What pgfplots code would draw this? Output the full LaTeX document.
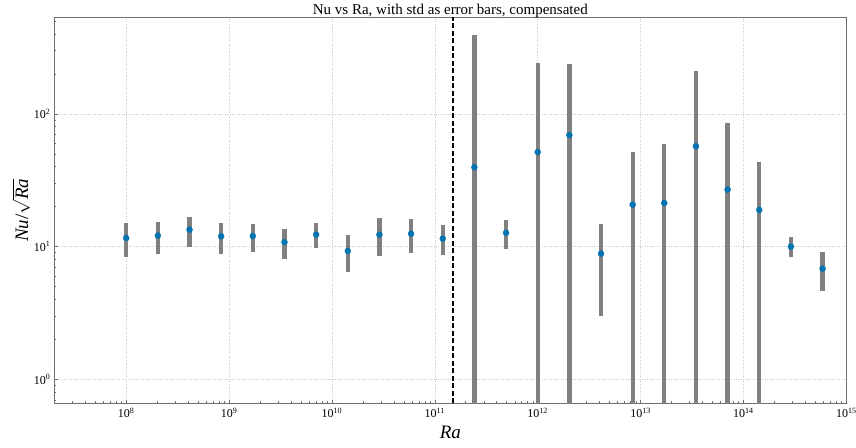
\documentclass[border=0pt]{standalone}
\usepackage{fontspec}
\setmainfont{Liberation Serif}
\usepackage{pgfplots}
\pgfplotsset{compat=1.18}
\usepackage{pgfplotstable}
\definecolor{ptblue}{RGB}{1,115,178}
\definecolor{errgray}{RGB}{128,128,128}
\definecolor{gridgray}{RGB}{200,200,200}
\definecolor{framegray}{RGB}{110,110,110}

\pgfplotstableread{
x y ep em
1e8 11.6 3.4 3.25
2.031e8 12.1 3.2 3.25
4.125e8 13.4 3.4 3.4
8.377e8 11.96 3.2 3.1
1.701e9 12.0 2.9 2.9
3.455e9 10.8 2.7 2.7
7.017e9 12.3 2.7 2.6
1.425e10 9.27 2.9 2.8
2.894e10 12.3 4.0 3.8
5.878e10 12.5 3.6 3.5
1.194e11 11.5 3.0 2.8
2.424e11 39.6 356 39.1
4.924e11 12.7 3.3 3.15
1e12 51.6 190 51.1
2.031e12 69.3 167 68.8
4.125e12 8.85 5.85 5.83
8.377e12 20.7 30.9 20.2
1.701e13 21.3 38.4 20.8
3.455e13 57.0 152 56.5
7.017e13 26.9 58.4 26.4
1.425e14 18.9 24.3 18.4
2.894e14 10.0 1.75 1.65
5.878e14 6.82 2.28 2.2
}\datatable

\begin{document}
\begin{tikzpicture}
\begin{axis}[
  scale only axis,
  width=792pt, height=386pt,
  xmode=log, ymode=log,
  xmin=2e7, xmax=1e15,
  ymin=0.659, ymax=535,
  axis line style={framegray, line width=0.8pt},
  tick style={framegray, line width=0.6pt},
  major tick length=3.5pt,
  minor tick length=2pt,
  xtick pos=bottom, ytick pos=left,
  xtick={1e8,1e9,1e10,1e11,1e12,1e13,1e14,1e15},
  xticklabels={10\textsuperscript{8},10\textsuperscript{9},10\textsuperscript{10},10\textsuperscript{11},10\textsuperscript{12},10\textsuperscript{13},10\textsuperscript{14},10\textsuperscript{15}},
  minor xtick={3e7,4e7,5e7,6e7,7e7,8e7,9e7,
    2e8,3e8,4e8,5e8,6e8,7e8,8e8,9e8,
    2e9,3e9,4e9,5e9,6e9,7e9,8e9,9e9,
    2e10,3e10,4e10,5e10,6e10,7e10,8e10,9e10,
    2e11,3e11,4e11,5e11,6e11,7e11,8e11,9e11,
    2e12,3e12,4e12,5e12,6e12,7e12,8e12,9e12,
    2e13,3e13,4e13,5e13,6e13,7e13,8e13,9e13,
    2e14,3e14,4e14,5e14,6e14,7e14,8e14,9e14},
  ytick={1,10,100},
  yticklabels={10\textsuperscript{0},10\textsuperscript{1},10\textsuperscript{2}},
  minor ytick={0.7,0.8,0.9,2,3,4,5,6,7,8,9,20,30,40,50,60,70,80,90,200,300,400,500},
  ticklabel style={font=\fontsize{12}{14}\selectfont},
  xticklabel style={yshift=-1.5pt},
  yticklabel style={xshift=-0.5pt},
  grid=major,
  major grid style={gridgray, dotted, line width=0.6pt},
  title={Nu vs Ra, with std as error bars, compensated},
  title style={font=\fontsize{15}{17}\selectfont, at={(0.5,1)}, anchor=base, yshift=-3.7pt, inner sep=0pt},
  xlabel={\textit{Ra}},
  xlabel style={font=\fontsize{19}{21}\selectfont, at={(axis description cs:0.5,-0.0743)}, anchor=center},
  ylabel={\textit{Nu}/$\sqrt{\textit{Ra}}$},
  ylabel style={font=\fontsize{19}{21}\selectfont, at={(axis description cs:-0.042,0.5)}, anchor=center, inner sep=0pt},
]
\addplot[forget plot, draw=none, mark=none,
  error bars/.cd, y dir=both, y explicit, error mark=none,
  error bar style={draw=errgray, line width=4.3pt}]
  table[x=x, y=y, y error plus=ep, y error minus=em] {\datatable};
\addplot[forget plot, black, dash pattern=on 5pt off 2.5pt, line width=1.4pt]
  coordinates {(1.5e11,0.659) (1.5e11,535)};
\addplot[only marks, mark=*, mark size=3pt, ptblue, mark options={draw=ptblue, fill=ptblue}]
  table[x=x, y=y] {\datatable};
\coordinate (bbsw) at (rel axis cs:-0.06856,-0.1158);
\coordinate (bbne) at (rel axis cs:1.01225,1.0448);
\end{axis}
\pgfresetboundingbox
\path[use as bounding box] (bbsw) rectangle (bbne);
\end{tikzpicture}
\end{document}
